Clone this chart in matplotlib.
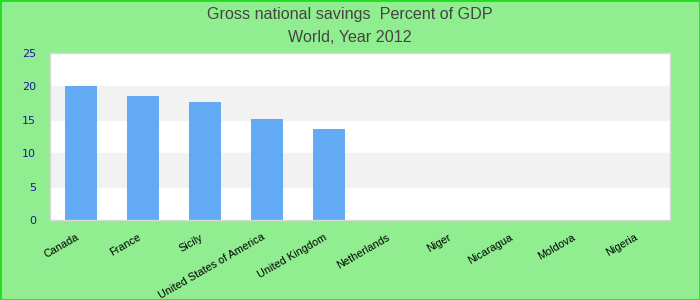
import matplotlib
matplotlib.use('Agg')
import matplotlib.pyplot as plt
from matplotlib.patches import Rectangle
from matplotlib.transforms import ScaledTranslation

countries = ['Canada', 'France', 'Sicily', 'United States of America', 'United Kingdom',
             'Netherlands', 'Niger', 'Nicaragua', 'Moldova', 'Nigeria']
savings = [20.1, 18.6, 17.7, 15.1, 13.6, 0, 0, 0, 0, 0]
y_ticks = [0, 5, 10, 15, 20, 25]

fig = plt.figure(figsize=(7, 3), dpi=100, facecolor='#90ee90')
ax = fig.add_axes([50/700, 1 - 220/300, 620/700, 167/300])
ax.set_facecolor('white')

# alternating bands
for i in range(len(y_ticks) - 1):
    if i % 2 == 1:
        ax.axhspan(y_ticks[i], y_ticks[i + 1], color='#f2f2f2', zorder=0)

x = list(range(len(countries)))
ax.bar(x, savings, width=0.52, color='#63aaf5', zorder=2)

ax.set_xlim(-0.5, len(countries) - 0.5)
ax.set_ylim(0, 25)
ax.set_yticks(y_ticks)
ax.set_xticks(x)
ax.set_xticklabels([''] * len(x))

# x labels drawn by hand so they sit a bit left of the bar centre
off = ax.get_xaxis_transform() + ScaledTranslation(-5/100, -12/100, fig.dpi_scale_trans)
for xi, name in zip(x, countries):
    ax.text(xi, 0, name, transform=off, rotation=30, ha='right', va='top',
            rotation_mode='anchor', fontsize=7.8, family='Liberation Sans', color='black')

ax.tick_params(axis='y', length=0, labelsize=8, labelcolor='#1a1a99', pad=10)
ax.tick_params(axis='x', length=0)
for s in ax.spines.values():
    s.set_color('#d8d8d8')
    s.set_linewidth(1)

fig.text(0.5, 1 - 14/300, 'Gross national savings  Percent of GDP', ha='center', va='center',
         fontsize=11.6, color='#444444', family='Liberation Sans')
fig.text(0.5, 1 - 37/300, 'World, Year 2012', ha='center', va='center',
         fontsize=11.6, color='#444444', family='Liberation Sans')

fig.patches.append(Rectangle((0, 0), 1, 1, transform=fig.transFigure, fill=False,
                             edgecolor='#22dd22', linewidth=2))

fig.savefig('out.png', dpi=100, facecolor=fig.get_facecolor())
